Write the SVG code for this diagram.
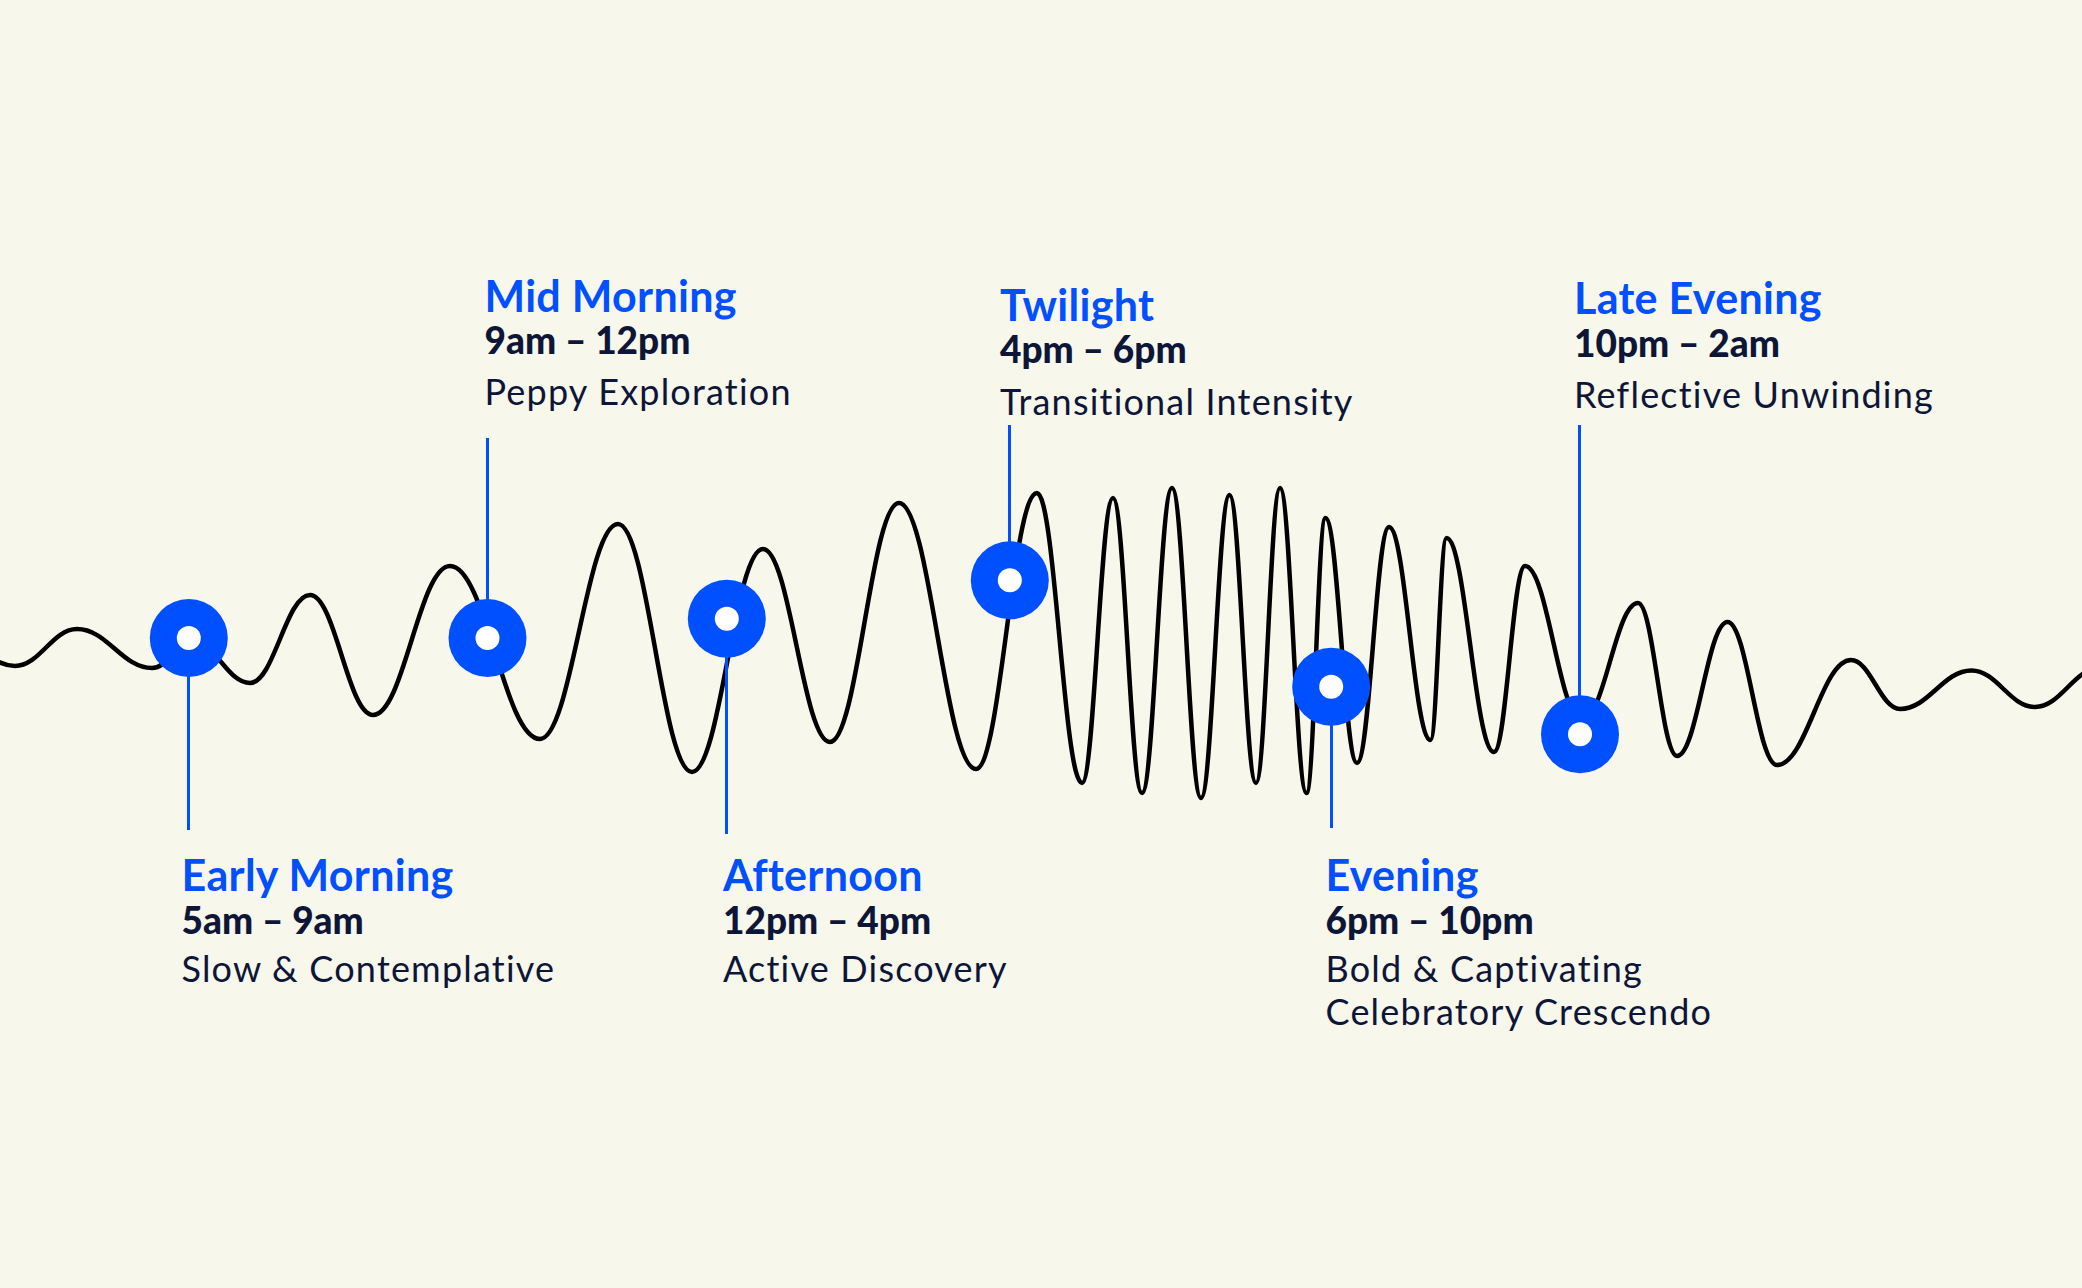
<svg xmlns="http://www.w3.org/2000/svg" width="2082" height="1288" viewBox="0 0 2082 1288">
<style>
.bg{fill:#F7F7EB}
.wave{fill:none;stroke:#000;stroke-width:4.5;stroke-linecap:round;stroke-linejoin:round}
.conn{stroke:#0050FF;stroke-width:3}
.ring{fill:#0050FF}
.dot{fill:#FFFFFF}
.title{font-family:Lato,"Open Sans",sans-serif;font-weight:700;font-size:43px;letter-spacing:0.3px;fill:#0050FF}
.time{font-family:Lato,"Open Sans",sans-serif;font-weight:900;font-size:37px;fill:#0E1638}
.desc{font-family:Lato,"Open Sans",sans-serif;font-weight:400;font-size:36px;letter-spacing:1.2px;fill:#0E1638}
</style>
<rect class="bg" x="0" y="0" width="2082" height="1288"/>
<g id="wave">
<path class="wave" d="M -46,640 C -21.6,640 -9.4,666 15,666 C 39.8,666 52.2,629 77,629 C 107,629 122,668 152,668 C 168.4,668 176.6,642 193,642 C 215.8,642 227.2,683 250,683 C 274,683 286,595 310,595 C 335.2,595 347.8,715 373,715 C 403.8,715 419.2,566 450,566 C 486,566 504,739 540,739 C 571.2,739 586.8,524 618,524 C 647.6,524 662.4,772 692,772 C 720.4,772 734.6,549 763,549 C 789.8,549 803.2,742 830,742 C 857.6,742 871.4,503 899,503 C 929.8,503 945.2,769 976,769 C 1000.4,769 1012.6,493 1037,493 C 1055,493 1064,783 1082,783 C 1094.4,783 1100.6,498 1113,498 C 1124.6,498 1130.4,793 1142,793 C 1154,793 1160,488 1172,488 C 1183.6,488 1189.4,798 1201,798 C 1212.4,798 1218.1,495 1229.5,495 C 1240.1,495 1245.4,783 1256,783 C 1265.6,783 1270.4,488 1280,488 C 1290.6,488 1295.9,793 1306.5,793 C 1314.1,793 1317.9,518 1325.5,518 C 1338.1,518 1344.4,763 1357,763 C 1369.8,763 1376.2,527 1389,527 C 1405.6,527 1413.9,740 1430.5,740 C 1436.9,740 1440.1,538 1446.5,538 C 1465.5,538 1475,752 1494,752 C 1506.4,752 1512.6,566 1525,566 C 1547.8,566 1559.2,720 1582,720 C 1604.4,720 1615.6,603 1638,603 C 1653.6,603 1661.4,756 1677,756 C 1697.2,756 1707.3,622 1727.5,622 C 1747.3,622 1757.2,765 1777,765 C 1806.6,765 1821.4,660 1851,660 C 1870.6,660 1880.4,709 1900,709 C 1928.6,709 1942.9,670.5 1971.5,670.5 C 1996.9,670.5 2009.6,707 2035,707 C 2061,707 2074,668 2100,668"/>
</g>
<g id="connectors">
<line class="conn" x1="188.5" y1="638" x2="188.5" y2="830"/>
<line class="conn" x1="487.5" y1="438" x2="487.5" y2="638"/>
<line class="conn" x1="726.5" y1="619" x2="726.5" y2="834"/>
<line class="conn" x1="1009.5" y1="425" x2="1009.5" y2="580"/>
<line class="conn" x1="1331.5" y1="687" x2="1331.5" y2="828"/>
<line class="conn" x1="1579.5" y1="425" x2="1579.5" y2="734"/>
</g>
<g id="early-morning">
<circle class="ring" cx="188.8" cy="638" r="39"/>
<circle class="dot" cx="188.8" cy="638" r="12"/>
<text class="title" x="181.5" y="891">Early Morning</text>
<text class="time" x="181.5" y="933.5">5am – 9am</text>
<text class="desc" x="181.5" y="982.3">Slow &amp; Contemplative</text>
</g>
<g id="mid-morning">
<circle class="ring" cx="487.5" cy="638" r="39"/>
<circle class="dot" cx="487.5" cy="638" r="12"/>
<text class="title" x="484.5" y="311.7">Mid Morning</text>
<text class="time" x="484.5" y="354">9am – 12pm</text>
<text class="desc" x="484.5" y="405">Peppy Exploration</text>
</g>
<g id="afternoon">
<circle class="ring" cx="726.8" cy="618.7" r="39"/>
<circle class="dot" cx="726.8" cy="618.7" r="12"/>
<text class="title" x="723" y="891">Afternoon</text>
<text class="time" x="723" y="933.5">12pm – 4pm</text>
<text class="desc" x="723" y="982.3">Active Discovery</text>
</g>
<g id="twilight">
<circle class="ring" cx="1009.8" cy="580.3" r="39"/>
<circle class="dot" cx="1009.8" cy="580.3" r="12"/>
<text class="title" x="1000" y="321">Twilight</text>
<text class="time" x="1000" y="363.3">4pm – 6pm</text>
<text class="desc" x="1000" y="415">Transitional Intensity</text>
</g>
<g id="evening">
<circle class="ring" cx="1331.2" cy="686.7" r="39"/>
<circle class="dot" cx="1331.2" cy="686.7" r="12"/>
<text class="title" x="1325.5" y="891">Evening</text>
<text class="time" x="1325.5" y="933.5">6pm – 10pm</text>
<text class="desc" x="1325.5" y="982.3">Bold &amp; Captivating</text>
<text class="desc" x="1325.5" y="1025">Celebratory Crescendo</text>
</g>
<g id="late-evening">
<circle class="ring" cx="1580" cy="734.3" r="39"/>
<circle class="dot" cx="1580" cy="734.3" r="12"/>
<text class="title" x="1574" y="314.3">Late Evening</text>
<text class="time" x="1574" y="356.7">10pm – 2am</text>
<text class="desc" x="1574" y="408.3">Reflective Unwinding</text>
</g>
</svg>
